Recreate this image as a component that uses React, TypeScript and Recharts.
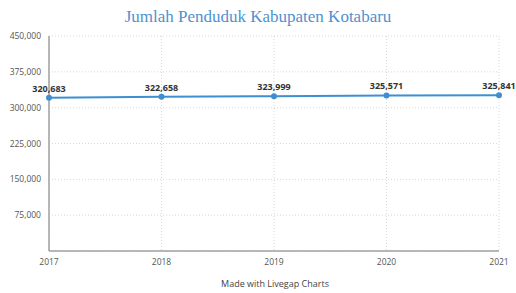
import { LineChart, Line, XAxis, YAxis, CartesianGrid, LabelList } from 'recharts'

const years = ['2017', '2018', '2019', '2020', '2021']
const penduduk = [320683, 322658, 323999, 325571, 325841]
const yTicks = [0, 75000, 150000, 225000, 300000, 375000, 450000]

const data = years.map((tahun, i) => ({ tahun, penduduk: penduduk[i] }))

const fmt = (v: number) => v.toLocaleString('en-US')

export default function App() {
  return (
    <div style={{ position: 'absolute', left: 0, top: 0, width: 516, height: 293, background: '#fff' }}>
      <div
        style={{
          position: 'absolute', left: 0, right: 0, top: 7, textAlign: 'center',
          fontFamily: '"Liberation Serif", serif', fontSize: 17, color: '#4f92cf',
        }}
      >
        Jumlah Penduduk Kabupaten Kotabaru
      </div>
      <LineChart
        width={516}
        height={293}
        data={data}
        margin={{ top: 36, right: 17, left: 0, bottom: 24 }}
      >
        <CartesianGrid stroke="#d8d8d8" strokeDasharray="1 2" />
        <XAxis
          dataKey="tahun"
          height={18}
          tick={{ fill: '#555', fontSize: 8.5, fontFamily: '"Open Sans", sans-serif' }}
          tickLine={false}
          axisLine={{ stroke: '#a0a0a0', strokeWidth: 1.5 }}
        />
        <YAxis
          width={49}
          domain={[0, 450000]}
          ticks={yTicks}
          tickFormatter={(v: number) => (v === 0 ? '' : fmt(v))}
          tick={{ fill: '#555', fontSize: 8.5, fontFamily: '"Open Sans", sans-serif' }}
          tickLine={false}
          axisLine={{ stroke: '#a0a0a0', strokeWidth: 1.5 }}
        />
        <Line
          type="linear"
          dataKey="penduduk"
          stroke="#3d8fd1"
          strokeWidth={2}
          dot={{ r: 2, fill: '#3d8fd1', stroke: '#3d8fd1' }}
          isAnimationActive={false}
        >
          <LabelList
            dataKey="penduduk"
            position="top"
            offset={6}
            formatter={(v: number) => fmt(v)}
            style={{ fill: '#333', fontSize: 9, fontWeight: 700, fontFamily: '"Open Sans", sans-serif' }}
          />
        </Line>
      </LineChart>
      <div
        style={{
          position: 'absolute', left: 49, right: 15, top: 277, textAlign: 'center',
          fontFamily: '"Open Sans", sans-serif', fontSize: 9, color: '#444',
        }}
      >
        Made with Livegap Charts
      </div>
    </div>
  )
}
